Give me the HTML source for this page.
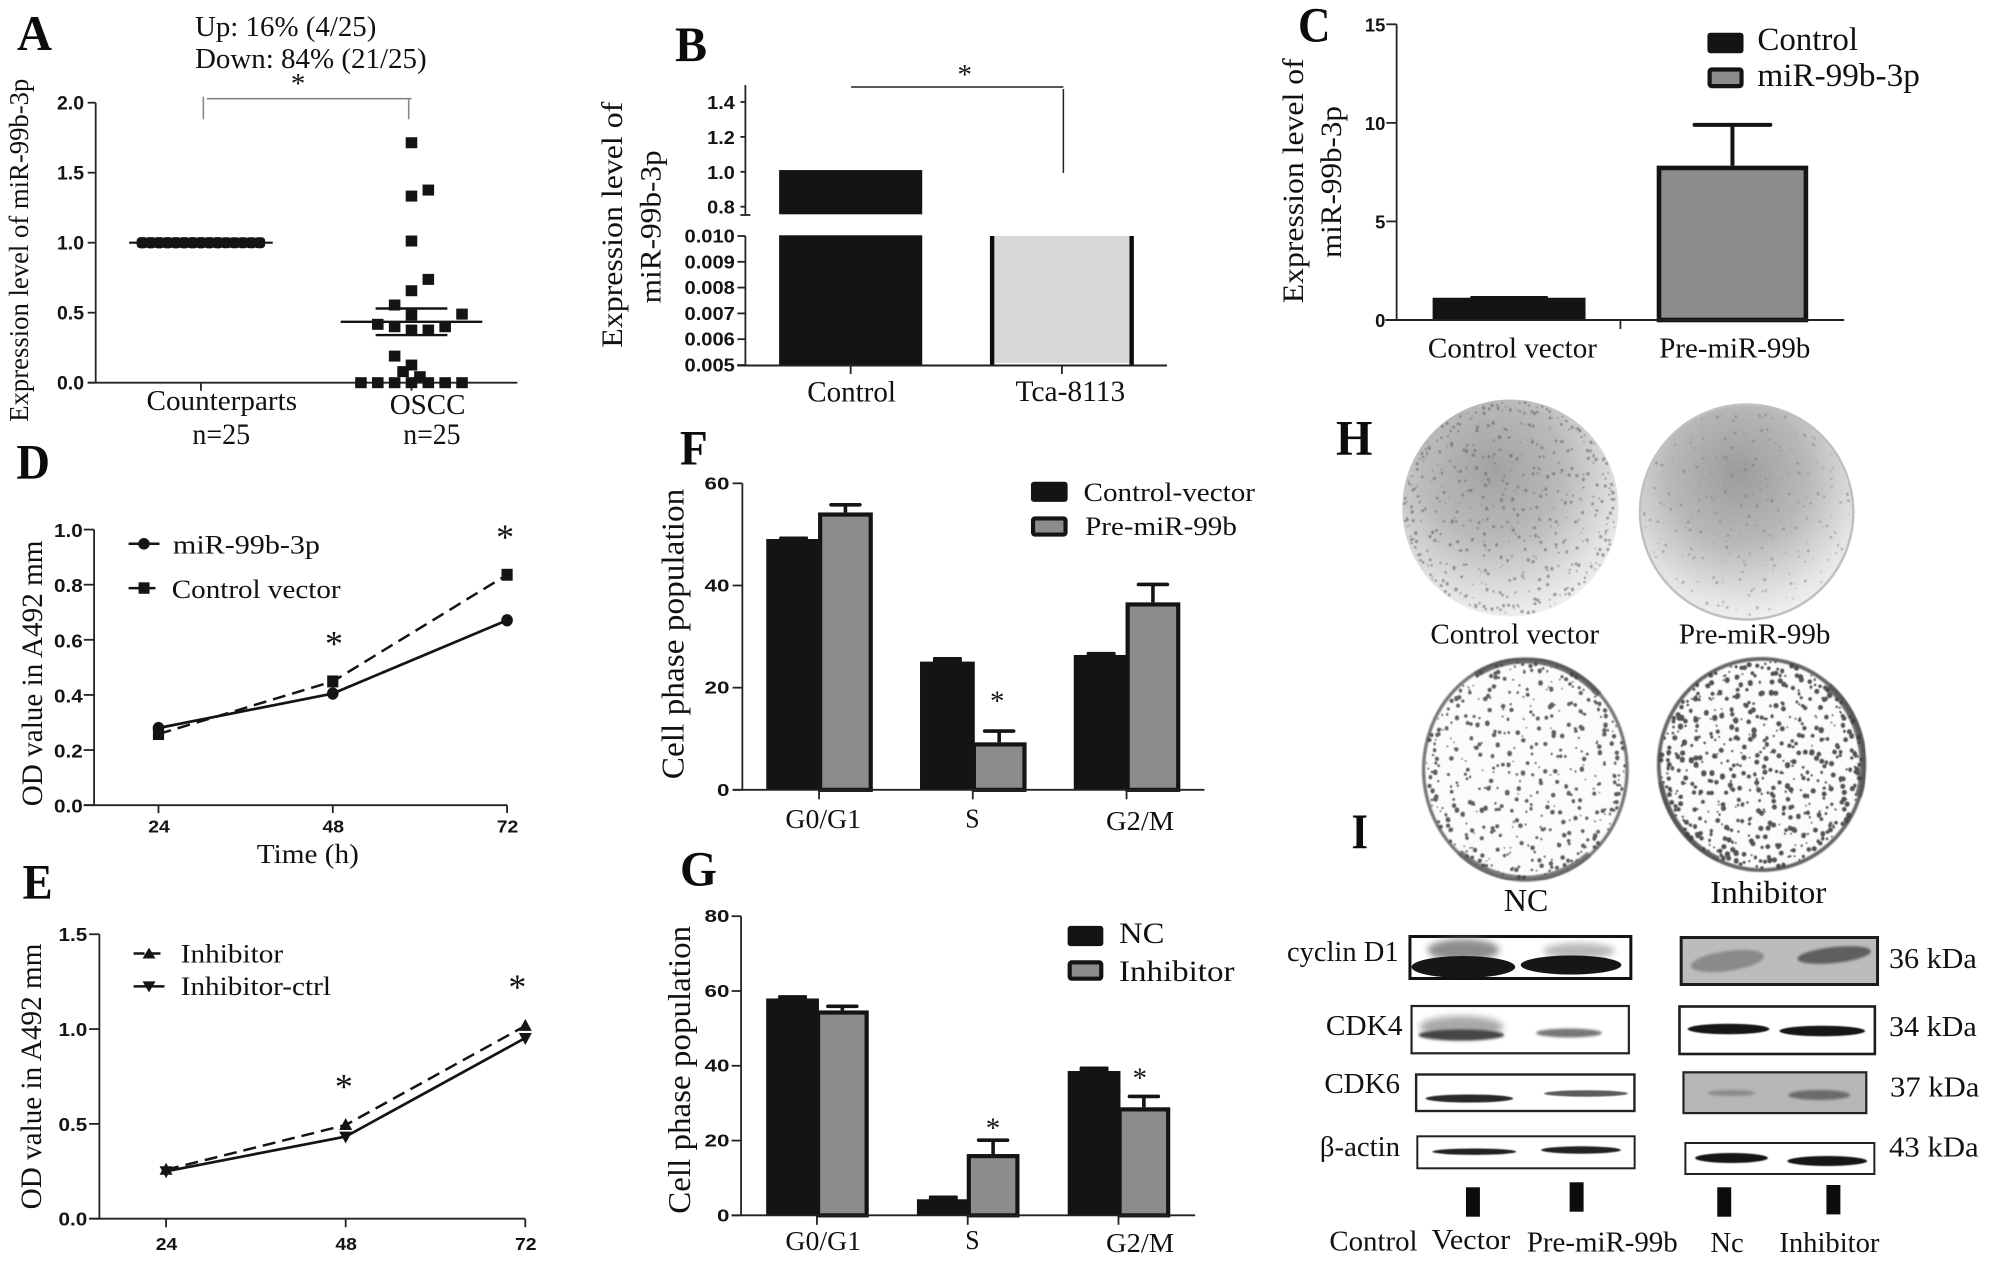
<!DOCTYPE html>
<html lang="en">
<head>
<meta charset="utf-8">
<title>miR-99b-3p expression and cell proliferation figure</title>
<style>
html,body{margin:0;padding:0;background:#fff}
svg{display:block}
.s{font-family:"Liberation Serif",serif;fill:#111}
.l{font-family:"Liberation Serif",serif;font-weight:bold;fill:#0c0c0c;font-size:50px}
.st{font-family:"Liberation Serif",serif;fill:#111;font-size:29px;text-anchor:middle}
.n{font-family:"Liberation Sans",sans-serif;font-weight:bold;fill:#141414}
</style>
</head>
<body>
<svg id="fig" xmlns="http://www.w3.org/2000/svg" width="1997" height="1266" viewBox="0 0 1997 1266">
<defs>
<filter id="b05" x="-20%" y="-20%" width="140%" height="140%"><feGaussianBlur stdDeviation="0.6"/></filter>
<filter id="b08" x="-5%" y="-5%" width="110%" height="110%"><feGaussianBlur stdDeviation="0.8"/></filter>
<filter id="b1" x="-30%" y="-60%" width="160%" height="220%"><feGaussianBlur stdDeviation="1.2"/></filter>
<filter id="b3" x="-30%" y="-80%" width="160%" height="260%"><feGaussianBlur stdDeviation="3.5"/></filter>
<radialGradient id="plateH1" cx="42%" cy="32%" r="72%"><stop offset="0" stop-color="#a2a2a2"/><stop offset=".45" stop-color="#bababa"/><stop offset=".8" stop-color="#e0e0e0"/><stop offset="1" stop-color="#f2f2f2"/></radialGradient>
<radialGradient id="plateH2" cx="46%" cy="32%" r="72%"><stop offset="0" stop-color="#9c9c9c"/><stop offset=".45" stop-color="#b8b8b8"/><stop offset=".8" stop-color="#e2e2e2"/><stop offset="1" stop-color="#f4f4f4"/></radialGradient>
</defs>
<rect x="0" y="0" width="1997" height="1266" fill="#fff"/>

<!-- panel letters -->
<text class="l" x="17" y="50" textLength="35" lengthAdjust="spacingAndGlyphs">A</text>
<text class="l" x="675" y="61" textLength="32" lengthAdjust="spacingAndGlyphs">B</text>
<text class="l" x="1298" y="41.7" textLength="32.5" lengthAdjust="spacingAndGlyphs">C</text>
<text class="l" x="16.4" y="478.3" textLength="33.6" lengthAdjust="spacingAndGlyphs">D</text>
<text class="l" x="22.6" y="898.3" textLength="30" lengthAdjust="spacingAndGlyphs">E</text>
<text class="l" x="680" y="464.6" textLength="27.7" lengthAdjust="spacingAndGlyphs">F</text>
<text class="l" x="680" y="885.7" textLength="37" lengthAdjust="spacingAndGlyphs">G</text>
<text class="l" x="1336" y="454.5" textLength="36.5" lengthAdjust="spacingAndGlyphs">H</text>
<text class="l" x="1351.5" y="848" textLength="16.5" lengthAdjust="spacingAndGlyphs">I</text>

<!-- panel A -->
<g id="panel-a" transform="scale(.9968,1)">
<text class="s" x="195.6" y="36" font-size="28" textLength="182" lengthAdjust="spacingAndGlyphs">Up: 16% (4/25)</text>
<text class="s" x="195.6" y="68" font-size="28" textLength="232.4" lengthAdjust="spacingAndGlyphs">Down: 84% (21/25)</text>
<text class="s" x="28" y="421.7" font-size="28" textLength="343" lengthAdjust="spacingAndGlyphs" transform="rotate(-90 28 421.7)">Expression level of miR-99b-3p</text>
<text class="s" x="147" y="410" font-size="28" textLength="151" lengthAdjust="spacingAndGlyphs">Counterparts</text>
<text class="s" x="193" y="444" font-size="30" textLength="58" lengthAdjust="spacingAndGlyphs">n=25</text>
<text class="s" x="391" y="414" font-size="28" textLength="76" lengthAdjust="spacingAndGlyphs">OSCC</text>
<text class="s" x="404.5" y="444" font-size="30" textLength="57.5" lengthAdjust="spacingAndGlyphs">n=25</text>
<text class="st" x="299" y="93">*</text>
<path d="M207.5 98.7H413M204 96.7V119.3M410 98.7V119.3" fill="none" stroke="#888" stroke-width="1.6"/>
</g>

<!-- panel B -->
<g id="panel-b" transform="translate(1.79,0) scale(.9968,1)">
<text class="s" x="622" y="347.7" font-size="30" textLength="246" lengthAdjust="spacingAndGlyphs" transform="rotate(-90 622 347.7)">Expression level of</text>
<text class="s" x="660.6" y="303.3" font-size="30" textLength="153" lengthAdjust="spacingAndGlyphs" transform="rotate(-90 660.6 303.3)">miR-99b-3p</text>
<text class="s" x="808" y="401.7" font-size="30" textLength="89" lengthAdjust="spacingAndGlyphs">Control</text>
<text class="s" x="1017" y="401" font-size="30" textLength="110" lengthAdjust="spacingAndGlyphs">Tca-8113</text>
<text class="st" x="966" y="84">*</text>
<path d="M852 87H1065M1065 89V173" fill="none" stroke="#222" stroke-width="1.5"/>
</g>

<!-- panel C -->
<g id="panel-c" transform="translate(4.1,0) scale(.9968,1)">
<text class="s" x="1303" y="303.3" font-size="30" textLength="245" lengthAdjust="spacingAndGlyphs" transform="rotate(-90 1303 303.3)">Expression level of</text>
<text class="s" x="1341" y="258" font-size="30" textLength="152" lengthAdjust="spacingAndGlyphs" transform="rotate(-90 1341 258)">miR-99b-3p</text>
<text class="s" x="1428.4" y="357.3" font-size="29" textLength="169.6" lengthAdjust="spacingAndGlyphs">Control vector</text>
<text class="s" x="1660.5" y="357.3" font-size="29" textLength="151.5" lengthAdjust="spacingAndGlyphs">Pre-miR-99b</text>
<g>
<rect x="1708.8" y="32.7" width="36.2" height="20.6" rx="3" fill="#141414"/>
<rect x="1711" y="69.5" width="32" height="16.6" rx="2" fill="#8c8c8c" stroke="#141414" stroke-width="4.2"/>
<text class="s" x="1758.9" y="50" font-size="33" textLength="101" lengthAdjust="spacingAndGlyphs">Control</text>
<text class="s" x="1758.9" y="86" font-size="33" textLength="163" lengthAdjust="spacingAndGlyphs">miR-99b-3p</text>
</g>
</g>

<!-- panels D and E -->
<g id="panel-d" transform="translate(0,2.086) scale(.9968,.99526)">
<text class="s" x="42" y="808" font-size="30" textLength="267" lengthAdjust="spacingAndGlyphs" transform="rotate(-90 42 808)">OD value in A492 mm</text>
<text class="s" x="257.6" y="865" font-size="28" textLength="102.4" lengthAdjust="spacingAndGlyphs">Time (h)</text>
<text class="st" style="font-size:36px" x="335" y="656.5">*</text>
<text class="st" style="font-size:36px" x="506.7" y="549.5">*</text>
<g>
<line x1="129" y1="544.3" x2="160" y2="544.3" stroke="#141414" stroke-width="2.5"/>
<ellipse cx="144.4" cy="544.3" rx="5.8" ry="5.8" fill="#141414"/>
<line x1="129" y1="588.8" x2="160" y2="588.8" stroke="#141414" stroke-width="2.5" stroke-dasharray="11 5"/>
<rect x="139" y="583" width="11" height="11.5" fill="#141414"/>
<text class="s" x="173.5" y="553.8" font-size="27" textLength="147.5" lengthAdjust="spacingAndGlyphs">miR-99b-3p</text>
<text class="s" x="172.3" y="598.8" font-size="27" textLength="169.4" lengthAdjust="spacingAndGlyphs">Control vector</text>
</g>
</g>
<g id="panel-e" transform="translate(0,2.086) scale(.9968,.99526)">
<text class="s" x="41" y="1213" font-size="30" textLength="267" lengthAdjust="spacingAndGlyphs" transform="rotate(-90 41 1213)">OD value in A492 mm</text>
<text class="st" style="font-size:36px" x="345" y="1101.5">*</text>
<text class="st" style="font-size:36px" x="519" y="1001.5">*</text>
<g>
<line x1="134" y1="956" x2="165" y2="956" stroke="#141414" stroke-width="2.5" stroke-dasharray="11 5"/>
<polygon points="149.5,950 156,961 143,961" fill="#141414"/>
<line x1="134" y1="989" x2="165" y2="989" stroke="#141414" stroke-width="2.5"/>
<polygon points="149.5,995 156,984 143,984" fill="#141414"/>
<text class="s" x="181.3" y="965" font-size="27" textLength="102.7" lengthAdjust="spacingAndGlyphs">Inhibitor</text>
<text class="s" x="181.3" y="997.4" font-size="27" textLength="150.7" lengthAdjust="spacingAndGlyphs">Inhibitor-ctrl</text>
</g>
</g>

<!-- panels F and G -->
<g id="panel-f" transform="translate(2.688,2.2) scale(.9958,.99488)">
<text class="s" x="683.6" y="781" font-size="32" textLength="292" lengthAdjust="spacingAndGlyphs" transform="rotate(-90 683.6 781)">Cell phase population</text>
<text class="s" x="786" y="830.3" font-size="28" textLength="76" lengthAdjust="spacingAndGlyphs">G0/G1</text>
<text class="s" x="966.6" y="829.5" font-size="28" textLength="14.4" lengthAdjust="spacingAndGlyphs">S</text>
<text class="s" x="1108" y="832" font-size="28" textLength="68.4" lengthAdjust="spacingAndGlyphs">G2/M</text>
<text class="st" x="998.7" y="712">*</text>
<g>
<rect x="1032.6" y="482" width="36.8" height="20.3" rx="3" fill="#141414"/>
<rect x="1034.7" y="518.9" width="32.6" height="16.2" rx="2" fill="#8c8c8c" stroke="#141414" stroke-width="4.2"/>
<text class="s" x="1085.4" y="501.3" font-size="27" textLength="172.2" lengthAdjust="spacingAndGlyphs">Control-vector</text>
<text class="s" x="1087" y="535.6" font-size="27" textLength="152.4" lengthAdjust="spacingAndGlyphs">Pre-miR-99b</text>
</g>
</g>
<g id="panel-g" transform="translate(2.688,2.2) scale(.9958,.99488)">
<text class="s" x="690" y="1217.8" font-size="32" textLength="289.4" lengthAdjust="spacingAndGlyphs" transform="rotate(-90 690 1217.8)">Cell phase population</text>
<text class="s" x="786" y="1254" font-size="28" textLength="76" lengthAdjust="spacingAndGlyphs">G0/G1</text>
<text class="s" x="966.6" y="1253" font-size="28" textLength="14.4" lengthAdjust="spacingAndGlyphs">S</text>
<text class="s" x="1108" y="1256" font-size="28" textLength="68.4" lengthAdjust="spacingAndGlyphs">G2/M</text>
<text class="st" x="994.5" y="1141">*</text>
<text class="st" x="1142" y="1091">*</text>
<g>
<rect x="1069.4" y="928.4" width="35.9" height="20.4" rx="3" fill="#141414"/>
<rect x="1071.5" y="965.1" width="31.7" height="16.4" rx="2" fill="#8c8c8c" stroke="#141414" stroke-width="4.2"/>
<text class="s" x="1121" y="945.5" font-size="30" textLength="45.6" lengthAdjust="spacingAndGlyphs">NC</text>
<text class="s" x="1121" y="983.6" font-size="30" textLength="116" lengthAdjust="spacingAndGlyphs">Inhibitor</text>
</g>
</g>

<!-- plates H / I -->
<g transform="translate(4.224,0) scale(.9968,1)">
<g id="plates">
<ellipse cx="1511" cy="508" rx="108.5" ry="108.5" fill="url(#plateH1)"/>
<ellipse cx="1748" cy="512" rx="107" ry="107.5" fill="url(#plateH2)" stroke="#c0c0c0" stroke-width="2.5"/>
<ellipse cx="1526" cy="769.5" rx="102" ry="110.5" fill="#fbfbfb" stroke="#777" stroke-width="3.5" filter="url(#b08)"/>
<path d="M1476 675A101 109 0 0 1 1600 695" fill="none" stroke="#555" stroke-width="6" opacity=".85" filter="url(#b08)"/>
<path d="M1460 852A101 109 0 0 0 1590 854" fill="none" stroke="#666" stroke-width="6" opacity=".85" filter="url(#b08)"/>
<ellipse cx="1763" cy="764.5" rx="103" ry="105.5" fill="#fbfbfb" stroke="#666" stroke-width="4" filter="url(#b08)"/>
<path d="M1830 686A102 104.5 0 0 1 1860 796.5" fill="none" stroke="#555" stroke-width="7" opacity=".85" filter="url(#b08)"/>
<path d="M1662 782A102 104.5 0 0 0 1720 859" fill="none" stroke="#555" stroke-width="5" opacity=".85" filter="url(#b08)"/>
</g>
<text class="s" x="1430.7" y="643.3" font-size="29" textLength="169.3" lengthAdjust="spacingAndGlyphs">Control vector</text>
<text class="s" x="1680" y="643.3" font-size="29" textLength="152" lengthAdjust="spacingAndGlyphs">Pre-miR-99b</text>
<text class="s" x="1504.5" y="911" font-size="32" textLength="44.5" lengthAdjust="spacingAndGlyphs">NC</text>
<text class="s" x="1711.5" y="903" font-size="32" textLength="116.5" lengthAdjust="spacingAndGlyphs">Inhibitor</text>
</g>

<!-- western blots -->
<g transform="translate(4.064,0) scale(.9968,1)">
<g>
<rect x="1410.4" y="936.5" width="221.6" height="42" fill="#fff" stroke="#111" stroke-width="3"/>
<ellipse cx="1464" cy="950" rx="36" ry="11" fill="#8c8c8c" filter="url(#b3)"/>
<ellipse cx="1580" cy="951" rx="36" ry="8" fill="#b8b8b8" filter="url(#b3)"/>
<ellipse cx="1464" cy="967" rx="52" ry="11" fill="#161616"/>
<ellipse cx="1572" cy="965" rx="50.5" ry="9.5" fill="#161616"/>
<rect x="1412" y="1006" width="218" height="47.3" fill="#fff" stroke="#222" stroke-width="2.2"/>
<ellipse cx="1462" cy="1027" rx="42" ry="11" fill="#a8a8a8" filter="url(#b3)"/>
<ellipse cx="1462" cy="1035" rx="43" ry="5.5" fill="#444" filter="url(#b1)"/>
<ellipse cx="1570" cy="1033" rx="33" ry="4.5" fill="#777" filter="url(#b1)"/>
<rect x="1416.6" y="1074.5" width="219" height="36.5" fill="#fff" stroke="#222" stroke-width="2.4"/>
<ellipse cx="1470" cy="1098.5" rx="44" ry="4" fill="#2c2c2c" filter="url(#b05)"/>
<ellipse cx="1587" cy="1093.5" rx="42" ry="3.2" fill="#5c5c5c" filter="url(#b05)"/>
<rect x="1417.8" y="1136.3" width="218" height="32" fill="#fff" stroke="#222" stroke-width="2"/>
<ellipse cx="1475" cy="1151.7" rx="42" ry="3.2" fill="#222" filter="url(#b05)"/>
<ellipse cx="1582" cy="1150" rx="40" ry="3.7" fill="#222" filter="url(#b05)"/>
</g>
<g>
<rect x="1682.5" y="937.5" width="197" height="47" fill="#bcbcbc" stroke="#1c1c1c" stroke-width="3"/>
<ellipse cx="1729" cy="961" rx="37" ry="10" fill="#8a8a8a" filter="url(#b1)" transform="rotate(-8 1729 961)"/>
<ellipse cx="1836" cy="955" rx="37" ry="8" fill="#5e5e5e" filter="url(#b1)" transform="rotate(-6 1836 955)"/>
<rect x="1680.8" y="1006.5" width="196" height="47.5" fill="#fff" stroke="#1c1c1c" stroke-width="2.6"/>
<ellipse cx="1730" cy="1029" rx="41" ry="5.3" fill="#161616" filter="url(#b05)"/>
<ellipse cx="1824" cy="1031" rx="43" ry="5.3" fill="#161616" filter="url(#b05)"/>
<rect x="1684.8" y="1072.3" width="183.4" height="40.8" fill="#b6b6b6" stroke="#222" stroke-width="2.2"/>
<ellipse cx="1733" cy="1093" rx="24" ry="3" fill="#8a8a8a" filter="url(#b1)"/>
<ellipse cx="1821" cy="1095" rx="31" ry="5" fill="#6a6a6a" filter="url(#b1)"/>
<rect x="1686.7" y="1143" width="189.6" height="31" fill="#fff" stroke="#222" stroke-width="2"/>
<ellipse cx="1733" cy="1158" rx="36.5" ry="5" fill="#141414" filter="url(#b05)"/>
<ellipse cx="1829" cy="1161" rx="40" ry="5" fill="#141414" filter="url(#b05)"/>
</g>
<text class="s" x="1287" y="961" font-size="28" textLength="112" lengthAdjust="spacingAndGlyphs">cyclin D1</text>
<text class="s" x="1326" y="1035" font-size="28" textLength="77" lengthAdjust="spacingAndGlyphs">CDK4</text>
<text class="s" x="1324.5" y="1093" font-size="28" textLength="76" lengthAdjust="spacingAndGlyphs">CDK6</text>
<text class="s" x="1320" y="1156" font-size="28" textLength="80.5" lengthAdjust="spacingAndGlyphs">β-actin</text>
<text class="s" x="1891" y="968" font-size="28" textLength="88" lengthAdjust="spacingAndGlyphs">36 kDa</text>
<text class="s" x="1891" y="1036" font-size="28" textLength="88" lengthAdjust="spacingAndGlyphs">34 kDa</text>
<text class="s" x="1892" y="1096.7" font-size="28" textLength="89.6" lengthAdjust="spacingAndGlyphs">37 kDa</text>
<text class="s" x="1891" y="1156.7" font-size="28" textLength="90" lengthAdjust="spacingAndGlyphs">43 kDa</text>
<rect x="1466.6" y="1187.3" width="14" height="29.4" fill="#0c0c0c"/>
<rect x="1570.6" y="1182.3" width="14" height="29.4" fill="#0c0c0c"/>
<rect x="1718.7" y="1187.3" width="14" height="29.4" fill="#0c0c0c"/>
<rect x="1828.2" y="1185" width="14" height="29.4" fill="#0c0c0c"/>
<text class="s" x="1329.6" y="1250.7" font-size="29" textLength="88.4" lengthAdjust="spacingAndGlyphs">Control</text>
<text class="s" x="1432" y="1249" font-size="29" textLength="79" lengthAdjust="spacingAndGlyphs">Vector</text>
<text class="s" x="1527.7" y="1251.7" font-size="29" textLength="151.3" lengthAdjust="spacingAndGlyphs">Pre-miR-99b</text>
<text class="s" x="1711.8" y="1252" font-size="29" textLength="33.5" lengthAdjust="spacingAndGlyphs">Nc</text>
<text class="s" x="1781" y="1252" font-size="29" textLength="100.4" lengthAdjust="spacingAndGlyphs">Inhibitor</text>
</g>
</svg>

<script>
// ---------- Panel A data ----------
const panelATickLabels = ['0.0', '0.5', '1.0', '1.5', '2.0'];
const panelACounterpartValues = [1, 1, 1, 1, 1, 1, 1, 1, 1, 1, 1, 1, 1, 1, 1, 1, 1, 1, 1, 1, 1, 1, 1, 1, 1];
const panelAOsccValues = [1.714, 1.333, 1.376, 1.012, 0.738, 0.657, 0.555, 0.483, 0.49, 0.417, 0.4, 0.376, 0.376, 0.4, 0.19, 0.126, 0.079, 0.043, 0, 0, 0, 0, 0, 0, 0];
const panelAOsccSwarmSlots = [0, 0, 1, 0, 1, 0, -1, 0, 3, -2, -1, 0, 1, 2, -1, 0, -0.5, 0.5, -3, -2, -1, 0, 1, 2, 3];
const panelAOsccMeanSem = [0.435, 0.095];
const panelACounterpartMeanSem = [1, 0];

// ---------- Panel B data ----------
const panelBUpperTickLabels = ['0.8', '1.0', '1.2', '1.4'];
const panelBLowerTickLabels = ['0.005', '0.006', '0.007', '0.008', '0.009', '0.010'];
const panelBCategories = ['Control', 'Tca-8113'];
const panelBValues = [1.01, 0.01];

// ---------- Panel C data ----------
const panelCTickLabels = ['0', '5', '10', '15'];
const panelCCategories = ['Control vector', 'Pre-miR-99b'];
const panelCValues = [1.13, 7.83];
const panelCErrors = [0.09, 2.07];

// ---------- Panel D data ----------
const panelDTickLabels = ['0.0', '0.2', '0.4', '0.6', '0.8', '1.0'];
const panelDHours = [24, 48, 72];
const panelDMir = [0.28, 0.405, 0.671];
const panelDControl = [0.258, 0.449, 0.836];

// ---------- Panel E data ----------
const panelETickLabels = ['0.0', '0.5', '1.0', '1.5'];
const panelEHours = [24, 48, 72];
const panelEInhibitor = [0.258, 0.494, 1.017];
const panelEInhibitorCtrl = [0.25, 0.433, 0.953];

// ---------- Panel F data ----------
const panelFTickLabels = ['0', '20', '40', '60'];
const panelFCategories = ['G0/G1', 'S', 'G2/M'];
const panelFControlVector = [49.1, 25.1, 26.4];
const panelFControlVectorErr = [0.5, 0.9, 0.6];
const panelFPreMir = [54.3, 9.3, 36.7];
const panelFPreMirErr = [1.5, 2.2, 3.5];

// ---------- Panel G data ----------
const panelGTickLabels = ['0', '20', '40', '60', '80'];
const panelGCategories = ['G0/G1', 'S', 'G2/M'];
const panelGNc = [58, 4.3, 38.6];
const panelGNcErr = [0.9, 1, 1.2];
const panelGInhibitor = [54.8, 16.4, 28.9];
const panelGInhibitorErr = [1.1, 3.7, 2.9];

// ---------- helpers ----------
const NS = document.getElementById('fig').namespaceURI;
const INK = '#141414';
const GREY = '#8c8c8c';

function panel(id) {
  return document.getElementById(id);
}
function make(tag, name, parent, attrs) {
  const el = document.createElementNS(NS, tag);
  
  
  for (const k in attrs) el.setAttribute(k, attrs[k]);
  parent.appendChild(el);
  return el;
}
function linear(d0, d1, r0, r1) {
  return function (v) { return r0 + (v - d0) * (r1 - r0) / (d1 - d0); };
}
function band(start, step) {
  return function (i) { return start + i * step; };
}
function numberLabel(name, parent, str, x, baseline, fs, stretch, anchor) {
  let em = 0;
  for (const c of str) em += c === '.' ? 0.278 : 0.556;
  const w = em * fs * stretch;
  const left = anchor === 'end' ? x - w : x - w / 2;
  const t = make('text', name, parent, { class: 'n', x: left, y: baseline, 'font-size': fs, textLength: w, lengthAdjust: 'spacingAndGlyphs' });
  t.textContent = str;
  return t;
}
function yAxis(name, parent, scale, labels, o) {
  const g = make('g', name, parent, {});
  make('line', name + '-line', g, { x1: o.x, x2: o.x, y1: o.top, y2: o.bottom, stroke: '#222', 'stroke-width': o.sw || 1.8 });
  labels.forEach(function (lab) {
    const y = scale(parseFloat(lab));
    make('line', name + '-tick-' + lab, g, { x1: o.x - o.tick, x2: o.x, y1: y, y2: y, stroke: '#222', 'stroke-width': 1.8 });
    numberLabel(name + '-label-' + lab, g, lab, o.labelRight, y + o.dy, o.fs, o.stretch, 'end');
  });
}
function xAxisLine(name, parent, x1, x2, y) {
  make('line', name, parent, { x1: x1, x2: x2, y1: y, y2: y, stroke: '#222', 'stroke-width': 1.9 });
}
function xTick(name, parent, x, y1, y2) {
  make('line', name, parent, { x1: x, x2: x, y1: y1, y2: y2, stroke: '#222', 'stroke-width': 1.8 });
}
function errorBar(name, parent, cx, yTop, yCap, capW, sw) {
  make('line', name + '-stem', parent, { x1: cx, x2: cx, y1: yTop, y2: yCap, stroke: INK, 'stroke-width': sw });
  make('line', name + '-cap', parent, { x1: cx - capW / 2, x2: cx + capW / 2, y1: yCap, y2: yCap, stroke: INK, 'stroke-width': sw, 'stroke-linecap': 'round' });
}
function errorBump(name, parent, cx, yTop, yCap, capW) {
  make('rect', name, parent, { x: cx - capW / 2, y: yCap, width: capW, height: yTop - yCap + 1, rx: 1, fill: INK });
}
function blackBar(name, parent, x, w, yTop, yBase) {
  make('rect', name, parent, { x: x, y: yTop, width: w, height: yBase - yTop, fill: INK });
}
function greyBar(name, parent, x, w, yTop, yBase, sw) {
  make('rect', name, parent, { x: x + sw / 2, y: yTop + sw / 2, width: w - sw, height: yBase - yTop - sw / 2, fill: GREY, stroke: INK, 'stroke-width': sw });
}
function linePath(xs, ys) {
  return xs.map(function (x, i) { return (i ? 'L' : 'M') + x + ' ' + ys[i]; }).join('');
}

// ---------- Panel A ----------
(function () {
  const g = make('g', 'panel-a-scatter', panel('panel-a'), {});
  const y = linear(0, 2, 382.7, 102.7);
  const col = 16.9;
  const cxC = 201.6, cxO = 412.8;
  yAxis('panel-a-y-axis', g, y, panelATickLabels, { x: 96, top: 102.7, bottom: 382.7, tick: 8, labelRight: 84.3, dy: 7, fs: 19.5, stretch: 1 });
  xAxisLine('panel-a-x-axis', g, 88, 519, 382.7);
  xTick('panel-a-x-tick-counterparts', g, cxC, 382.7, 390.7);
  xTick('panel-a-x-tick-oscc', g, cxO, 382.7, 390.7);
  panelACounterpartValues.forEach(function (v, i) {
    const dx = ((i % 15) - 7) * 8.4;
    make('rect', 'counterpart-point', g, { x: cxC + dx - 5.6, y: y(v) - 5.5, width: 11.2, height: 11, rx: 3.5, fill: INK });
  });
  const mc = panelACounterpartMeanSem;
  make('line', 'counterpart-mean-line', g, { x1: cxC - 72, x2: cxC + 72, y1: y(mc[0]), y2: y(mc[0]), stroke: INK, 'stroke-width': 2.2 });
  panelAOsccValues.forEach(function (v, i) {
    const dx = panelAOsccSwarmSlots[i] * col;
    make('rect', 'oscc-point', g, { x: cxO + dx - 5.8, y: y(v) - 5.5, width: 11.6, height: 11, fill: INK });
  });
  const m = panelAOsccMeanSem;
  make('line', 'oscc-mean-line', g, { x1: cxO - 71, x2: cxO + 71, y1: y(m[0]), y2: y(m[0]), stroke: INK, 'stroke-width': 2.4 });
  make('line', 'oscc-sem-upper', g, { x1: cxO - 36, x2: cxO + 36, y1: y(m[0] + m[1]), y2: y(m[0] + m[1]), stroke: INK, 'stroke-width': 2.4 });
  make('line', 'oscc-sem-lower', g, { x1: cxO - 36, x2: cxO + 36, y1: y(m[0] - m[1]), y2: y(m[0] - m[1]), stroke: INK, 'stroke-width': 2.4 });
})();

// ---------- Panel B ----------
(function () {
  const g = make('g', 'panel-b-bars', panel('panel-b'), {});
  const yU = linear(0.8, 1.4, 206.7, 102);
  const yL = linear(0.005, 0.01, 365, 236);
  const x = band(851.6, 211.9);
  const w = 143.6;
  yAxis('panel-b-y-axis-upper', g, yU, panelBUpperTickLabels, { x: 746, top: 85, bottom: 215, tick: 5, labelRight: 735.4, dy: 7, fs: 18.5, stretch: 1.08 });
  make('line', 'panel-b-axis-break-tick', g, { x1: 741, x2: 751, y1: 215, y2: 215, stroke: '#222', 'stroke-width': 1.8 });
  yAxis('panel-b-y-axis-lower', g, yL, panelBLowerTickLabels, { x: 746, top: 236, bottom: 365, tick: 8, labelRight: 735.4, dy: 6.5, fs: 18.5, stretch: 1.09 });
  const bc = x(0) - w / 2;
  const vC = panelBValues[0];
  blackBar('bar-control-upper-segment', g, bc, w, yU(vC), 214.3);
  blackBar('bar-control-lower-segment', g, bc, w, 235.3, 365);
  const bt = x(1) - 72.2;
  const topT = yL(panelBValues[1]);
  make('rect', 'bar-tca-8113-fill', g, { x: bt, y: topT, width: 144.4, height: 363 - topT, fill: '#d8d8d8' });
  make('rect', 'bar-tca-8113-left-edge', g, { x: bt, y: topT, width: 4.4, height: 365 - topT, fill: '#0c0c0c' });
  make('rect', 'bar-tca-8113-right-edge', g, { x: bt + 140, y: topT, width: 4.4, height: 365 - topT, fill: '#0c0c0c' });
  xAxisLine('panel-b-x-axis', g, 737.7, 1169, 365.5);
  panelBCategories.forEach(function (c, i) {
    xTick('panel-b-x-tick-' + i, g, x(i), 365.5, 374);
  });
})();

// ---------- Panel C ----------
(function () {
  const g = make('g', 'panel-c-bars', panel('panel-c'), {});
  const y = linear(0, 15, 320, 24.3);
  const x = band(1509.8, 224.1);
  yAxis('panel-c-y-axis', g, y, panelCTickLabels, { x: 1397, top: 24.3, bottom: 320, tick: 10.4, labelRight: 1385.7, dy: 7, fs: 18.5, stretch: 1 });
  errorBump('bar-control-vector-error', g, x(0), y(panelCValues[0]), y(panelCValues[0] + panelCErrors[0]), 78);
  blackBar('bar-control-vector', g, x(0) - 76.7, 153.4, y(panelCValues[0]), 320);
  errorBar('bar-pre-mir-99b-error', g, x(1), y(panelCValues[1]), y(panelCValues[1] + panelCErrors[1]), 76, 4);
  greyBar('bar-pre-mir-99b', g, x(1) - 76, 152, y(panelCValues[1]), 320, 4.6);
  xAxisLine('panel-c-x-axis', g, 1385.7, 1846, 320);
  xTick('panel-c-x-tick', g, 1621.5, 320, 329);
})();

// ---------- Panel D ----------
(function () {
  const g = make('g', 'panel-d-lines', panel('panel-d'), {});
  const y = linear(0, 1, 806.9, 530);
  const x = linear(24, 72, 159, 508.7);
  yAxis('panel-d-y-axis', g, y, panelDTickLabels, { x: 94.4, top: 530, bottom: 806.9, tick: 10.4, labelRight: 83, dy: 7.5, fs: 19, stretch: 1.09 });
  xAxisLine('panel-d-x-axis', g, 84, 508.7, 806.9);
  panelDHours.forEach(function (h) {
    xTick('panel-d-x-tick-' + h, g, x(h), 806.9, 814.8);
    numberLabel('panel-d-x-label-' + h, g, String(h), x(h) + 0.5, 834.4, 18, 1.08, 'middle');
  });
  const xs = panelDHours.map(x);
  make('path', 'series-control-vector-line', g, { d: linePath(xs, panelDControl.map(y)), fill: 'none', stroke: INK, 'stroke-width': 2.5, 'stroke-dasharray': '13 7' });
  make('path', 'series-mir-99b-3p-line', g, { d: linePath(xs, panelDMir.map(y)), fill: 'none', stroke: INK, 'stroke-width': 2.7 });
  panelDMir.forEach(function (v, i) {
    make('ellipse', 'series-mir-99b-3p-point', g, { cx: xs[i], cy: y(v), rx: 5.8, ry: 6.2, fill: INK });
  });
  panelDControl.forEach(function (v, i) {
    make('rect', 'series-control-vector-point', g, { x: xs[i] - 5.6, y: y(v) - 6, width: 11.2, height: 12, fill: INK });
  });
})();

// ---------- Panel E ----------
(function () {
  const g = make('g', 'panel-e-lines', panel('panel-e'), {});
  const y = linear(0, 1.5, 1222.4, 936.6);
  const x = linear(24, 72, 166.6, 527);
  yAxis('panel-e-y-axis', g, y, panelETickLabels, { x: 99.7, top: 936.6, bottom: 1222.4, tick: 10.3, labelRight: 87.5, dy: 7, fs: 19, stretch: 1.09 });
  xAxisLine('panel-e-x-axis', g, 89.4, 527, 1222.4);
  panelEHours.forEach(function (h) {
    xTick('panel-e-x-tick-' + h, g, x(h), 1222.4, 1231);
    numberLabel('panel-e-x-label-' + h, g, String(h), x(h) + 0.5, 1254, 18, 1.08, 'middle');
  });
  const xs = panelEHours.map(x);
  make('path', 'series-inhibitor-line', g, { d: linePath(xs, panelEInhibitor.map(y)), fill: 'none', stroke: INK, 'stroke-width': 2.5, 'stroke-dasharray': '13 7' });
  make('path', 'series-inhibitor-ctrl-line', g, { d: linePath(xs, panelEInhibitorCtrl.map(y)), fill: 'none', stroke: INK, 'stroke-width': 2.7 });
  panelEInhibitor.forEach(function (v, i) {
    const px = xs[i], py = y(v);
    make('polygon', 'series-inhibitor-point', g, { points: px + ',' + (py - 7) + ' ' + (px + 6.5) + ',' + (py + 5) + ' ' + (px - 6.5) + ',' + (py + 5), fill: INK });
  });
  panelEInhibitorCtrl.forEach(function (v, i) {
    const px = xs[i], py = y(v);
    make('polygon', 'series-inhibitor-ctrl-point', g, { points: px + ',' + (py + 7) + ' ' + (px + 6.5) + ',' + (py - 5) + ' ' + (px - 6.5) + ',' + (py - 5), fill: INK });
  });
})();

// ---------- Panels F and G ----------
function groupedBars(name, parent, scale, xBand, cats, black, blackErr, grey, greyErr, base, w) {
  const g = make('g', name, parent, {});
  cats.forEach(function (c, i) {
    const cx = xBand(i);
    const bx = cx - w + 2;
    const gx = cx - 1;
    errorBump(name + '-black-error-' + i, g, bx + w / 2, scale(black[i]), scale(black[i] + blackErr[i]), 29);
    blackBar(name + '-black-bar-' + i, g, bx, w, scale(black[i]), base);
    errorBar(name + '-grey-error-' + i, g, gx + w / 2, scale(grey[i]), scale(grey[i] + greyErr[i]), 29, 3.6);
    greyBar(name + '-grey-bar-' + i, g, gx, w, scale(grey[i]), base, 4.2);
    xTick(name + '-x-tick-' + i, g, cx, base, base + 9.5);
  });
  return g;
}
(function () {
  const y = linear(0, 60, 791.7, 483.6);
  const x = band(819.8, 154.4);
  const g = groupedBars('panel-f-bars', panel('panel-f'), y, x, panelFCategories, panelFControlVector, panelFControlVectorErr, panelFPreMir, panelFPreMirErr, 791.7, 55);
  yAxis('panel-f-y-axis', g, y, panelFTickLabels, { x: 742.8, top: 483.6, bottom: 791.7, tick: 9.8, labelRight: 729.8, dy: 6, fs: 18, stretch: 1.25 });
  xAxisLine('panel-f-x-axis', g, 733, 1206.8, 791.7);
})();
(function () {
  const y = linear(0, 80, 1219.4, 918.7);
  const x = band(817.7, 151.4);
  const g = groupedBars('panel-g-bars', panel('panel-g'), y, x, panelGCategories, panelGNc, panelGNcErr, panelGInhibitor, panelGInhibitorErr, 1219.4, 53);
  yAxis('panel-g-y-axis', g, y, panelGTickLabels, { x: 741.5, top: 918.7, bottom: 1219.4, tick: 9.5, labelRight: 729.8, dy: 6, fs: 18, stretch: 1.25 });
  xAxisLine('panel-g-x-axis', g, 732, 1197.5, 1219.4);
})();

// ---------- Colony spots on plates (illustrative texture, not chart data) ----------
function spotPath(cx, cy, rx, ry, n, rMin, rMax, phase) {
  let d = '';
  for (let i = 0; i < n; i++) {
    const r = Math.min(0.96, Math.sqrt((i + 0.5) / n) * (1 + 0.05 * Math.sin(i * 3.1 + phase)));
    const a = i * 2.39996 + phase + 0.5 * Math.sin(i * 1.7);
    const sr = rMin + (rMax - rMin) * (0.5 + 0.5 * Math.sin(i * 12.9898 + phase));
    const sx = cx + rx * r * Math.cos(a);
    const sy = cy + ry * r * Math.sin(a);
    d += 'M' + (sx - sr).toFixed(1) + ' ' + sy.toFixed(1) + 'a' + sr.toFixed(1) + ' ' + sr.toFixed(1) + ' 0 1 0 ' + (2 * sr).toFixed(1) + ' 0a' + sr.toFixed(1) + ' ' + sr.toFixed(1) + ' 0 1 0 ' + (-2 * sr).toFixed(1) + ' 0';
  }
  return d;
}
function rimPath(cx, cy, rx, ry, n, rMin, rMax, phase) {
  let d = '';
  for (let i = 0; i < n; i++) {
    const a = i * 2.39996 + phase;
    const r = 0.91 + 0.07 * (0.5 + 0.5 * Math.sin(i * 7.3));
    const sr = rMin + (rMax - rMin) * (0.5 + 0.5 * Math.sin(i * 4.1));
    const sx = cx + rx * r * Math.cos(a);
    const sy = cy + ry * r * Math.sin(a);
    d += 'M' + (sx - sr).toFixed(1) + ' ' + sy.toFixed(1) + 'a' + sr.toFixed(1) + ' ' + sr.toFixed(1) + ' 0 1 0 ' + (2 * sr).toFixed(1) + ' 0a' + sr.toFixed(1) + ' ' + sr.toFixed(1) + ' 0 1 0 ' + (-2 * sr).toFixed(1) + ' 0';
  }
  return d;
}
(function () {
  const plates = document.getElementById('plates');
  make('path', 'colonies-control-vector', plates, { d: spotPath(1511, 508, 108.5, 108.5, 380, 0.7, 1.6, 0.3) + rimPath(1511, 508, 108.5, 108.5, 110, 0.7, 1.5, 1), fill: '#606060', opacity: 0.6, filter: 'url(#b05)' });
  make('path', 'colonies-pre-mir-99b', plates, { d: spotPath(1748, 512, 107, 107, 220, 0.6, 1.3, 1.1), fill: '#6a6a6a', opacity: 0.5, filter: 'url(#b05)' });
  make('path', 'colonies-nc', plates, { d: spotPath(1526, 769.5, 98, 106, 330, 0.8, 2.3, 2.2) + rimPath(1526, 769.5, 102, 110.5, 110, 0.8, 2.2, 0.4), fill: '#444', opacity: 0.85, filter: 'url(#b05)' });
  make('path', 'colonies-inhibitor', plates, { d: spotPath(1763, 764.5, 98, 100.5, 470, 0.9, 2.6, 0.7) + rimPath(1763, 764.5, 103, 105.5, 120, 1, 2.6, 2), fill: '#3c3c3c', opacity: 0.88, filter: 'url(#b05)' });
})();
</script>
</body>
</html>
